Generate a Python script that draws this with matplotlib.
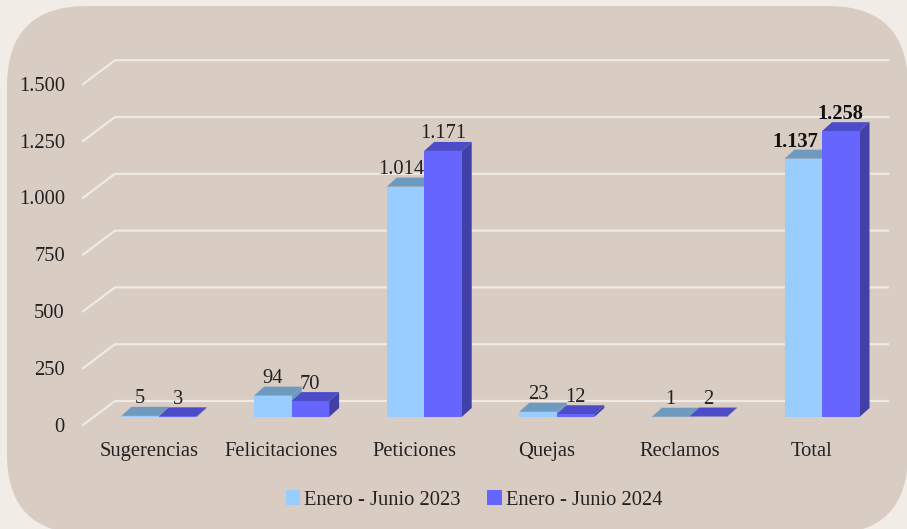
import matplotlib
matplotlib.use('Agg')
import matplotlib.pyplot as plt
from matplotlib.patches import FancyBboxPatch, Polygon, Patch
from matplotlib.transforms import IdentityTransform

categories = ['Sugerencias', 'Felicitaciones', 'Peticiones', 'Quejas', 'Reclamos', 'Total']
values_2023 = [5, 94, 1014, 23, 1, 1137]
values_2024 = [3, 70, 1171, 12, 2, 1258]
series_names = ['Enero - Junio 2023', 'Enero - Junio 2024']
y_ticks = [0, 250, 500, 750, 1000, 1250, 1500]

plt.rcParams['font.family'] = ['Liberation Serif', 'DejaVu Sans']
TEXT = '#222222'
FS = 14.8

W, H = 907, 529
fig = plt.figure(figsize=(W / 100, H / 100), dpi=100, facecolor='#F1EDE6')
ax = fig.add_axes([0, 0, 1, 1])
ax.axis('off')

# escala: categoria -> 132.6 px, valor -> 0.2272 px
PX_X = 132.6
PX_Y = 0.2272
ax.set_xlim(-159 / PX_X, (W - 159) / PX_X)
ax.set_ylim(-(H - 417) / PX_Y, 417 / PX_Y)

# profundidad del efecto 3D
DX = 10 / PX_X
DY = 9 / PX_Y
BAR_W = 37.5 / PX_X

# panel redondeado
panel = FancyBboxPatch((7, -5), 901, 528, boxstyle='round,pad=0,rounding_size=80',
                       fc='#D9CCC3', ec='none', transform=IdentityTransform(), zorder=0)
ax.add_patch(panel)

# rejilla: pared del fondo y diagonal del piso
x_front = (83 - 159) / PX_X
x_back = (115 - 159) / PX_X
x_end = (888 - 159) / PX_X
grid_back = 16 / PX_Y  # la pared de fondo queda 16 px arriba de la base
grid_front = -8 / PX_Y
for t in y_ticks:
    ax.plot([x_front, x_back, x_end], [t + grid_front, t + grid_back, t + grid_back],
            color='#EFEAE6', lw=1.6, zorder=1, solid_joinstyle='miter')
    ax.text((65 - 159) / PX_X, t + grid_front - 2 / PX_Y, f'{t:,}'.replace(',', '.'),
            ha='right', va='center', fontsize=FS, color=TEXT)


def bar3d(x0, v, front, top, side, z):
    x1 = x0 + BAR_W
    ax.add_patch(Polygon([(x1, 0), (x1 + DX, DY), (x1 + DX, v + DY), (x1, v)], fc=side, ec='none', zorder=z))
    ax.add_patch(Polygon([(x0, v), (x0 + DX, v + DY), (x1 + DX, v + DY), (x1, v)], fc=top, ec='none', zorder=z))
    ax.add_patch(Polygon([(x0, 0), (x1, 0), (x1, v), (x0, v)], fc=front, ec='none', zorder=z))


label_shift_2023 = [0, 0, -4, 0, 0, -8]
for i, cat in enumerate(categories):
    bar3d(i - BAR_W, values_2023[i], '#99CCFF', '#6F9ABF', '#6F9ABF', 2)
    bar3d(i, values_2024[i], '#6666FF', '#4C4CC8', '#4040A6', 3)
    bold = 'bold' if cat == 'Total' else 'normal'
    for v, cx, shift in ((values_2023[i], i - BAR_W / 2, label_shift_2023[i]),
                         (values_2024[i], i + BAR_W / 2, 0)):
        ax.annotate(f'{v:,}'.replace(',', '.'), (cx, v), xytext=(shift * 0.72, 17 * 0.72),
                    textcoords='offset points', ha='center', va='center',
                    fontsize=FS, color='#111111' if bold == 'bold' else TEXT, fontweight=bold, zorder=5)
    ax.text(i - 10 / PX_X, -39 / PX_Y, cat, ha='center', va='baseline', fontsize=FS, color=TEXT)

handles = [Patch(fc='#99CCFF', label=series_names[0]), Patch(fc='#6666FF', label=series_names[1])]
ax.legend(handles=handles, ncol=2, loc='center', bbox_to_anchor=(474 / W, 1 - 500 / H),
          frameon=False, fontsize=FS, handlelength=0.7, handleheight=0.7,
          handletextpad=0.2, columnspacing=1.3, labelcolor=TEXT)

fig.savefig('out.png', dpi=100, facecolor=fig.get_facecolor())
plt.close()
